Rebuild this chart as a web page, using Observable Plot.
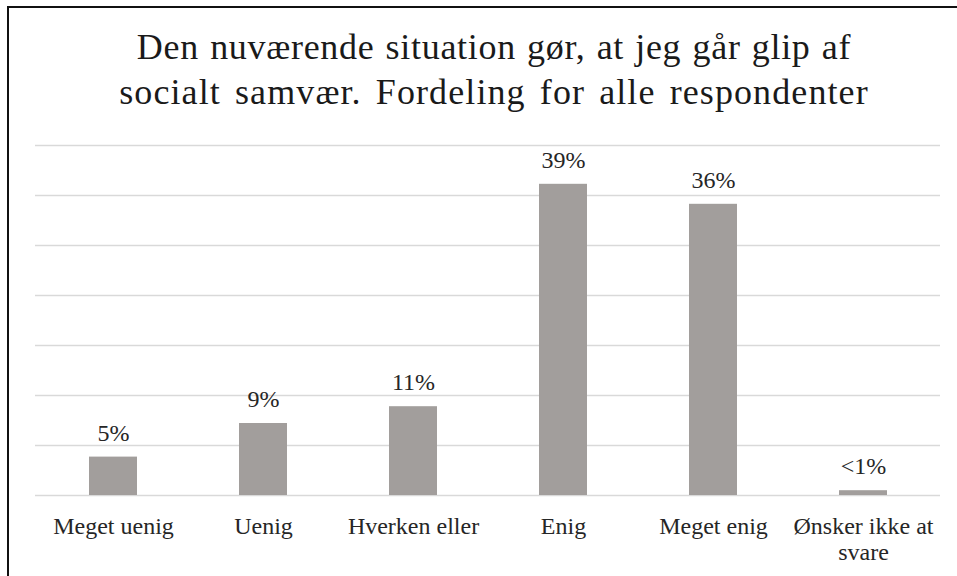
<!DOCTYPE html>
<html>
<head>
<meta charset="utf-8">
<script src="https://cdn.jsdelivr.net/npm/d3@7"></script>
<script src="https://cdn.jsdelivr.net/npm/@observablehq/plot@0.6"></script>
<style>
  html, body { margin: 0; padding: 0; background: #fff; }
  body { width: 957px; height: 576px; position: relative; overflow: hidden; }
  #frame { position: absolute; left: 7px; top: 6px; width: 960px; height: 580px;
           border-left: 2px solid #111; border-top: 2px solid #111; }
  #title { position: absolute; left: 0; top: 25px; width: 988px; text-align: center;
           font-family: "Liberation Serif", "Times New Roman", serif; font-size: 36px;
           line-height: 45px; color: #1a1a1a; margin: 0; font-weight: normal; }
  #title .l1 { letter-spacing: 0.7px; word-spacing: 1.5px; }
  #title .l2 { letter-spacing: 1.1px; word-spacing: 4px; }
  #chart { position: absolute; left: 0; top: 130px; }
</style>
</head>
<body>
<div id="frame"></div>
<h1 id="title"><span class="l1">Den nuværende situation gør, at jeg går glip af</span><br><span class="l2">socialt samvær. Fordeling for alle respondenter</span></h1>
<div id="chart"></div>
<script>
const categories = ["Meget uenig", "Uenig", "Hverken eller", "Enig", "Meget enig", "Ønsker ikke at svare"];
const values = [4.8, 9.0, 11.1, 38.9, 36.4, 0.6];
const valueLabels = ["5%", "9%", "11%", "39%", "36%", "<1%"];
const gridTicks = [0, 6.25, 12.5, 18.75, 25, 31.25, 37.5, 43.75];

const data = categories.map((c, i) => ({category: c, value: values[i], label: valueLabels[i]}));

const serif = "Liberation Serif, Times New Roman, serif";

const chart = Plot.plot({
  width: 957,
  height: 446,
  marginLeft: 35,
  marginRight: 17,
  marginTop: 15,
  marginBottom: 81,
  style: {fontFamily: serif, fontSize: "24px", color: "#262626", background: "transparent"},
  x: {domain: categories, paddingInner: 0.68, paddingOuter: 0.34, label: null, axis: null},
  y: {domain: [0, 43.75], label: null, axis: null},
  marks: [
    Plot.ruleY(gridTicks, {stroke: "#d9d9d9", strokeWidth: 1.3}),
    Plot.barY(data, {x: "category", y: "value", fill: "#a29e9c"}),
    Plot.text(data, {x: "category", y: "value", text: "label", dy: -24, fontSize: 24, fontFamily: serif, fill: "#262626"}),
    Plot.axisX({
      tickSize: 0,
      tickPadding: 21,
      fontSize: 24,
      fontFamily: serif,
      lineHeight: 1.05,
      fill: "#262626",
      tickFormat: d => d === "Ønsker ikke at svare" ? "Ønsker ikke at\nsvare" : d
    })
  ]
});
document.getElementById("chart").appendChild(chart);
</script>
</body>
</html>
